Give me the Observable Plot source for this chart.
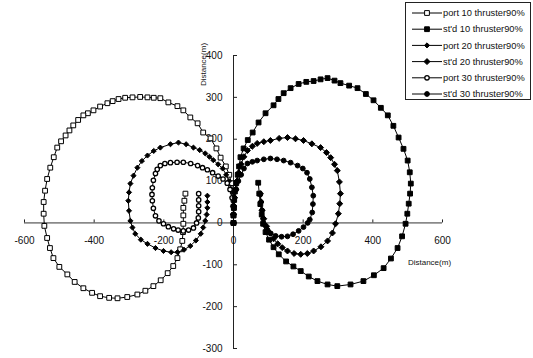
<!DOCTYPE html>
<html>
<head>
<meta charset="utf-8">
<script src="https://cdn.jsdelivr.net/npm/d3@7"></script>
<script src="https://cdn.jsdelivr.net/npm/@observablehq/plot@0.6"></script>
<style>
  body { margin: 0; background: #fff; }
  #wrap { position: relative; width: 533px; height: 358px; }
  #wrap svg { display: block; }
</style>
</head>
<body>
<div id="wrap"></div>
<script>
// Turning trajectories (x, y in metres) for 90% thruster runs
const xTicks = [-600, -400, -200, 0, 200, 400, 600];
const yTicks = [-300, -200, -100, 0, 100, 200, 300, 400];

const seriesNames = [
  "port 10 thruster90%",
  "st'd 10 thruster90%",
  "port 20 thruster90%",
  "st'd 20 thruster90%",
  "port 30 thruster90%",
  "st'd 30 thruster90%"
];

const port10 = [
  [0,0],[0,18],[1,36],[0,55],[-2,75],[-6,95],[-12,115],[-22,135],[-37,156],[-49,178],[-66,202],
  [-87,216],[-103,238],[-124,252],[-144,269],[-161,279],[-187,288],[-210,298],[-229,299],[-247,300],
  [-268,301],[-290,300],[-311,299],[-330,296],[-347,291],[-362,286],[-383,278],[-402,269],[-418,262],
  [-431,257],[-446,246],[-460,233],[-471,221],[-482,209],[-495,195],[-506,180],[-516,157],[-526,132],
  [-535,105],[-541,77],[-545,50],[-545,22],[-543,-7],[-535,-36],[-527,-60],[-517,-84],[-500,-105],
  [-477,-123],[-456,-141],[-431,-156],[-406,-167],[-383,-175],[-357,-179],[-333,-180],[-305,-177],
  [-276,-171],[-253,-162],[-230,-151],[-209,-137],[-189,-120],[-173,-103],[-161,-84],[-153,-63],
  [-147,-43],[-145,-22],[-144,-2],[-144,18],[-144,36],[-141,53],[-138,70]
];

const std10 = [
  [0,0],[0,18],[1,36],[2,55],[4,75],[8,95],[12,115],[16,135],[20,157],[29,178],[41,198],[55,216],
  [72,240],[92,262],[115,281],[129,296],[144,310],[164,322],[187,332],[209,337],[230,339],[250,343],
  [270,346],[290,340],[307,334],[332,328],[356,322],[380,308],[402,293],[423,275],[443,257],[459,232],
  [474,204],[488,177],[500,149],[506,121],[509,94],[507,70],[503,46],[499,22],[494,-2],[484,-32],
  [471,-60],[452,-85],[431,-108],[403,-125],[373,-139],[336,-147],[298,-151],[270,-147],[241,-139],
  [216,-128],[193,-115],[172,-104],[151,-92],[130,-75],[115,-58],[102,-40],[92,-22],[85,-2],[81,20],
  [77,45],[74,70],[71,96]
];

const port20 = [
  [0,0],[0,20],[-1,40],[-3,60],[-7,80],[-13,100],[-21,115],[-31,130],[-44,140],[-58,150],[-69,158],
  [-81,166],[-97,174],[-115,180],[-136,188],[-158,192],[-181,188],[-210,180],[-229,172],[-247,161],
  [-263,148],[-276,132],[-287,113],[-296,94],[-300,73],[-302,53],[-300,29],[-296,5],[-290,-11],
  [-282,-26],[-266,-40],[-247,-50],[-224,-60],[-201,-67],[-179,-70],[-161,-70],[-142,-64],[-124,-55],
  [-108,-42],[-94,-26],[-87,-11],[-81,5],[-77,20],[-75,36],[-75,50],[-75,65]
];

const std20 = [
  [0,0],[0,20],[1,40],[3,60],[6,80],[10,100],[15,120],[22,140],[30,158],[40,173],[54,183],[68,190],
  [87,194],[106,197],[131,202],[155,204],[178,201],[201,197],[225,189],[250,180],[267,168],[279,156],
  [290,140],[298,125],[304,98],[307,70],[305,46],[301,22],[293,-2],[284,-24],[270,-43],[251,-57],
  [230,-67],[212,-73],[193,-75],[174,-73],[155,-67],[140,-59],[127,-50],[115,-38],[104,-24],[95,-8],
  [87,10],[82,30],[79,50],[77,70]
];

const port30 = [
  [0,0],[0,20],[-1,40],[-4,60],[-10,80],[-18,95],[-30,105],[-44,112],[-60,120],[-75,127],[-89,132],
  [-103,137],[-123,142],[-144,145],[-162,145],[-181,144],[-197,142],[-210,137],[-219,128],[-224,118],
  [-230,102],[-233,84],[-234,68],[-233,53],[-230,35],[-224,17],[-214,5],[-201,-2],[-187,-9],[-172,-14],
  [-159,-17],[-144,-19],[-129,-17],[-115,-12],[-106,0],[-101,12],[-100,27],[-100,41],[-100,55],[-100,70]
];

const std30 = [
  [0,0],[0,20],[1,40],[3,60],[8,80],[14,100],[22,115],[30,130],[40,142],[54,146],[68,149],[87,152],
  [106,154],[125,152],[144,149],[164,144],[184,137],[199,130],[211,120],[219,105],[225,85],[229,65],
  [228,45],[226,25],[219,8],[213,0],[201,-10],[187,-19],[171,-27],[155,-32],[138,-33],[121,-31],
  [107,-25],[98,-17],[90,-5],[85,10],[82,30],[79,50],[77,68]
];

const paths = [port10, std10, port20, std20, port30, std30];

// marker style per series: open/filled squares, diamonds, open/filled circles
const markerStyle = [
  {symbol: "square",   type: d3.symbolSquare,   fill: "white", r: 2.7, sw: 1},
  {symbol: "square",   type: d3.symbolSquare,   fill: "black", r: 2.7, sw: 1},
  {symbol: "diamond2", type: d3.symbolDiamond2, fill: "black", r: 2.3, sw: 1},
  {symbol: "diamond2", type: d3.symbolDiamond2, fill: "black", r: 2.7, sw: 1},
  {symbol: "circle",   type: d3.symbolCircle,   fill: "white", r: 2.2, sw: 1.3},
  {symbol: "circle",   type: d3.symbolCircle,   fill: "black", r: 2.4, sw: 1}
];

const rows = paths.flatMap((pts, s) => pts.map(([x, y]) => ({series: seriesNames[s], x, y})));

const seriesMarks = seriesNames.flatMap((name, s) => {
  const data = rows.filter(r => r.series === name);
  const st = markerStyle[s];
  return [
    Plot.line(data, {x: "x", y: "y", stroke: "black", strokeWidth: 1}),
    Plot.dot(data, {x: "x", y: "y", symbol: () => st.symbol, r: st.r, fill: st.fill, stroke: "black", strokeWidth: st.sw})
  ];
});

const chart = Plot.plot({
  width: 533,
  height: 358,
  marginLeft: 24,
  marginRight: 91,
  marginTop: 55,
  marginBottom: 10,
  style: {fontFamily: "Arial, 'Liberation Sans', sans-serif", fontSize: "10px", background: "white", color: "black"},
  x: {domain: [-600, 600], axis: null},
  y: {domain: [-300, 400], axis: null},
  symbol: {type: "identity"},
  marks: [
    // axes crossing at the origin
    Plot.ruleY([0], {x1: -600, x2: 600, stroke: "#333", strokeWidth: 1}),
    Plot.ruleX([0], {y1: -300, y2: 400, stroke: "#222", strokeWidth: 1}),
    Plot.ruleX(xTicks.filter(d => d !== 0), {x: d => d, y1: 0, y2: 0, insetTop: -3, stroke: "#222"}),
    Plot.ruleY(yTicks, {y: d => d, x1: 0, x2: 0, insetRight: -4, stroke: "#222"}),
    Plot.text(xTicks, {x: d => d, y: 0, dy: 18, text: d => String(d), fill: "#111"}),
    Plot.text(yTicks, {x: 0, y: d => d, dx: -11, textAnchor: "end", text: d => String(d), fill: "#111"}),
    Plot.text(["Distance(m)"], {x: 0, y: 400, dx: -30, dy: 9, rotate: -90, fontSize: 8, fill: "#111"}),
    Plot.text(["Distance(m)"], {x: 600, y: 0, dx: -13, dy: 40, fontSize: 8, fill: "#111"}),
    ...seriesMarks
  ]
});

const wrap = document.getElementById("wrap");
wrap.appendChild(chart);

// legend box in the upper right corner
const legend = d3.select(wrap).append("svg")
  .attr("width", 128).attr("height", 100)
  .style("position", "absolute").style("left", "404px").style("top", "1px");
legend.append("rect")
  .attr("x", 1.5).attr("y", 1.5).attr("width", 125).attr("height", 97)
  .attr("fill", "white").attr("stroke", "#222");
seriesNames.forEach((name, s) => {
  const st = markerStyle[s];
  const g = legend.append("g").attr("transform", `translate(0,${12 + s * 16.2})`);
  g.append("line").attr("x1", 8).attr("x2", 38).attr("stroke", "black");
  g.append("path")
    .attr("transform", "translate(23,0)")
    .attr("d", d3.symbol(st.type, Math.PI * st.r * st.r)())
    .attr("fill", st.fill).attr("stroke", "black").attr("stroke-width", st.sw);
  g.append("text")
    .attr("x", 39).attr("dy", "0.35em")
    .style("font", "9.3px Arial, 'Liberation Sans', sans-serif")
    .attr("fill", "#111")
    .text(name);
});
</script>
</body>
</html>
